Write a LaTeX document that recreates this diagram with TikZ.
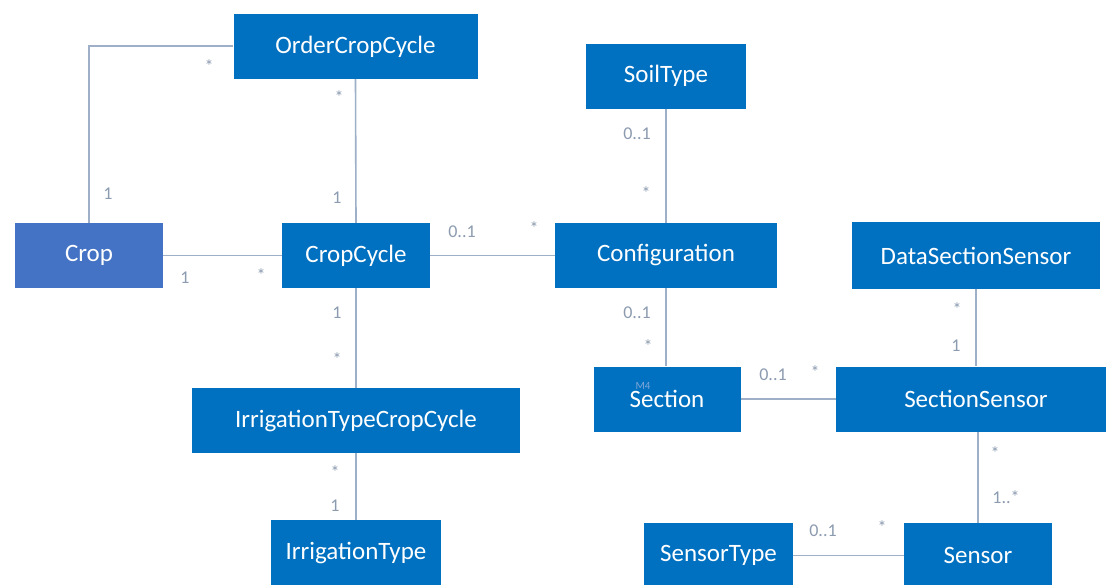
\documentclass[tikz,border=0pt]{standalone}
\usepackage{fontspec}
\setmainfont{Carlito}
\definecolor{classblue}{HTML}{0070C0}
\definecolor{rootblue}{HTML}{4472C4}
\definecolor{assoc}{HTML}{9DB0C8}
\definecolor{mult}{HTML}{8C9BB0}
\definecolor{faint}{HTML}{7FA7D8}
\tikzset{
  cls/.style={fill=classblue, draw=none, text=white, inner sep=0pt,
    minimum height=65pt, font=\fontsize{25}{29}\selectfont},
  rootcls/.style={cls, fill=rootblue},
  link/.style={draw=assoc, line width=1.6pt},
  mlabel/.style={text=mult, inner sep=0pt, font=\fontsize{18}{21}\selectfont}
}
\begin{document}
\begin{tikzpicture}[x=1pt, y=-1pt]
\useasboundingbox (0,0) rectangle (1106,584);
\clip (0,0) rectangle (1106,584);
\fill[white] (0,0) rectangle (1106,584);

% classes
\node[cls, minimum width=244pt] (occ) at (355.5,46.5) {OrderCropCycle};
\node[rootcls, minimum width=148pt] (crop) at (89,255.5) {Crop};
\node[cls, minimum width=148pt] (cc) at (356,255.5) {CropCycle};
\node[cls, minimum width=160pt] (soil) at (666,76) {SoilType};
\node[cls, minimum width=222pt] (conf) at (666,255.5) {Configuration};
\node[cls, minimum width=248pt, minimum height=67pt] (dss) at (976,255.5) {DataSectionSensor};
\node[cls, minimum width=328pt] (itcc) at (356,420.5) {IrrigationTypeCropCycle};
\node[cls, minimum width=170pt] (it) at (356,552.5) {IrrigationType};
\node[cls, minimum width=147pt] (sec) at (667,399) {Section};
\node[cls, minimum width=280pt] (ss) at (976,399) {SectionSensor};
\node[cls, minimum width=148pt] (sen) at (978,555.5) {Sensor};
\node[cls, minimum width=149pt] (st) at (718.5,555.5) {SensorType};
\node[text=faint, inner sep=0pt, font=\fontsize{11}{12}\selectfont] (m4) at (643,386) {M4};

% associations
\coordinate (bend) at (crop.north |- 0,46);
\draw[link] (occ.west |- bend) -- (bend) -- (crop.north);
\draw[link] (occ.south) -- (cc.north);
\draw[link] (crop.east) -- (cc.west);
\draw[link] (cc.east) -- (conf.west);
\draw[link] (soil.south) -- (conf.north);
\draw[link] (cc.south) -- (itcc.north);
\draw[link] (itcc.south) -- (it.north);
\draw[link] (conf.south) -- (conf.south |- sec.north);
\draw[link] (sec.east) -- (ss.west);
\draw[link] (dss.south) -- (ss.north);
\draw[link] (ss.south -| sen.north) -- (sen.north);
\draw[link] (st.east) -- (sen.west);

% multiplicities
\node[mlabel] (l1) at (209,66) {*};
\node[mlabel] (l2) at (108,194) {1};
\node[mlabel] (l3) at (339,97) {*};
\node[mlabel] (l4) at (337,198) {1};
\node[mlabel] (l5) at (185,278) {1};
\node[mlabel] (l6) at (261,275) {*};
\node[mlabel] (l7) at (462,232) {0..1};
\node[mlabel] (l8) at (534,228) {*};
\node[mlabel] (l9) at (637,134) {0..1};
\node[mlabel] (l10) at (646,193) {*};
\node[mlabel] (l11) at (337,313) {1};
\node[mlabel] (l12) at (337,359) {*};
\node[mlabel] (l13) at (335,472) {*};
\node[mlabel] (l14) at (335,506) {1};
\node[mlabel] (l15) at (637,313) {0..1};
\node[mlabel] (l16) at (648,346) {*};
\node[mlabel] (l17) at (773,375) {0..1};
\node[mlabel] (l18) at (815,372) {*};
\node[mlabel] (l19) at (957,309) {*};
\node[mlabel] (l20) at (956,346) {1};
\node[mlabel] (l21) at (995,453) {*};
\node[mlabel] (l22) at (1006,497) {1..*};
\node[mlabel] (l23) at (823,531) {0..1};
\node[mlabel] (l24) at (882,527) {*};
\end{tikzpicture}
\end{document}
